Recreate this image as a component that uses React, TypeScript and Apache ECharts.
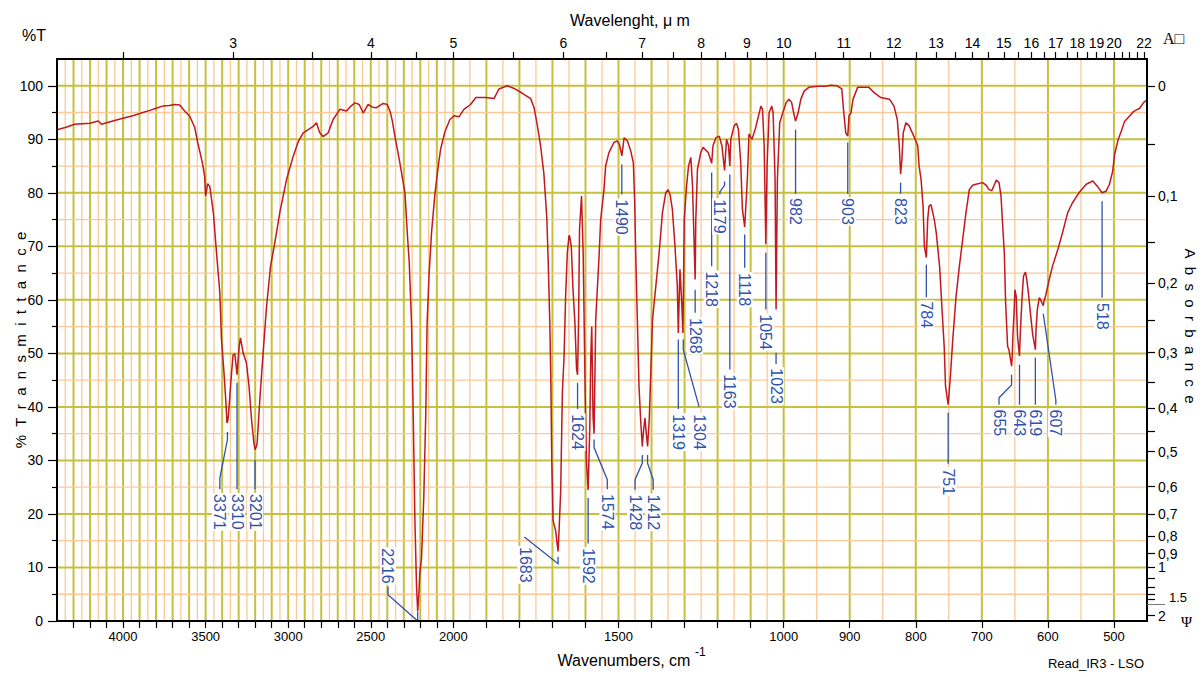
import React, { useEffect, useRef } from "react";
import * as echarts from "echarts";

// ---------- data ----------
// IR spectrum: [wavenumber cm-1, %T]
const spectrum: [number, number][] = [
  [4400, 91.8],[4350, 92.2],[4293, 92.8],[4200, 93.0],[4150, 93.4],[4131, 92.8],[4100, 93.1],[4007, 93.9],[3941, 94.4],[3890, 94.9],
  [3838, 95.4],[3800, 95.8],[3760, 96.2],[3720, 96.3],[3687, 96.5],[3657, 96.4],[3627, 95.3],[3596, 94.3],[3566, 92.2],[3548, 89.4],
  [3530, 87.0],[3518, 85.3],[3506, 83.1],[3500, 79.4],[3494, 80.5],[3488, 81.7],[3475, 81.2],[3465, 79.0],[3453, 76.2],[3434, 68.8],
  [3414, 61.3],[3404, 52.6],[3390, 46.9],[3378, 41.3],[3371, 37.0],[3365, 37.5],[3358, 40.0],[3343, 46.4],[3334, 49.7],[3323, 49.9],
  [3310, 46.0],[3297, 51.3],[3289, 52.9],[3273, 50.1],[3253, 48.2],[3237, 43.8],[3222, 37.6],[3208, 33.3],[3201, 32.0],[3194, 32.5],
  [3188, 33.3],[3172, 41.3],[3152, 50.1],[3131, 58.8],[3107, 66.3],[3081, 70.7],[3051, 76.3],[3010, 82.5],[2970, 86.8],[2940, 89.5],
  [2909, 91.2],[2849, 92.4],[2829, 93.1],[2809, 91.2],[2789, 90.5],[2758, 91.2],[2728, 93.7],[2687, 95.6],[2647, 95.3],[2620, 96.2],
  [2596, 96.8],[2570, 96.5],[2546, 94.9],[2516, 96.5],[2490, 96.0],[2465, 95.9],[2425, 96.7],[2400, 96.5],[2384, 95.3],[2370, 93.5],
  [2354, 90.6],[2324, 85.6],[2293, 80.0],[2279, 72.5],[2267, 66.9],[2253, 55.3],[2243, 38.5],[2233, 19.0],[2223, 6.4],[2216, 1.8],
  [2210, 4.5],[2203, 9.0],[2193, 11.6],[2179, 23.2],[2167, 38.8],[2159, 55.7],[2147, 64.8],[2132, 72.6],[2112, 79.7],[2092, 84.9],
  [2077, 88.2],[2051, 91.4],[2021, 93.7],[1998, 94.4],[1983, 94.2],[1968, 95.6],[1948, 96.5],[1932, 97.8],[1902, 97.8],[1877, 97.6],
  [1862, 99.4],[1837, 100.0],[1816, 99.5],[1791, 98.6],[1766, 97.6],[1756, 96.0],[1746, 92.7],[1736, 88.8],[1726, 83.6],[1717, 75.2],
  [1713, 67.4],[1708, 55.7],[1705, 45.3],[1702, 29.7],[1698, 18.7],[1690, 16.8],[1686, 14.5],[1683, 13.0],[1680, 16.8],[1675, 24.5],
  [1670, 42.7],[1665, 49.2],[1660, 60.9],[1655, 68.7],[1650, 72.0],[1648, 71.9],[1643, 70.0],[1638, 62.2],[1632, 55.7],[1627, 47.0],
  [1624, 46.0],[1621, 55.7],[1618, 73.2],[1612, 79.4],[1607, 68.7],[1601, 42.7],[1597, 29.7],[1592, 24.5],[1587, 36.2],[1584, 49.2],
  [1581, 55.0],[1577, 38.0],[1574, 35.0],[1569, 56.3],[1559, 68.0],[1554, 75.0],[1544, 80.6],[1539, 85.0],[1529, 87.5],[1514, 89.4],
  [1504, 89.7],[1497, 89.0],[1490, 86.9],[1483, 90.3],[1473, 89.7],[1463, 87.8],[1455, 85.6],[1451, 78.2],[1448, 68.8],[1443, 56.3],
  [1438, 43.9],[1433, 37.6],[1428, 32.6],[1425, 35.1],[1420, 37.9],[1416, 35.1],[1412, 32.6],[1407, 37.6],[1402, 47.0],[1397, 56.3],
  [1387, 62.6],[1377, 68.8],[1367, 76.3],[1357, 80.0],[1350, 80.6],[1344, 79.7],[1337, 76.9],[1329, 70.0],[1322, 62.6],[1319, 53.8],
  [1314, 65.7],[1309, 60.0],[1305, 53.8],[1301, 75.0],[1294, 81.3],[1288, 85.0],[1281, 86.6],[1276, 81.3],[1268, 63.8],[1266, 75.0],
  [1261, 84.4],[1251, 87.5],[1244, 88.5],[1236, 88.0],[1228, 87.5],[1218, 85.5],[1214, 88.8],[1205, 90.3],[1195, 90.6],[1187, 88.8],
  [1179, 84.2],[1173, 90.0],[1167, 88.8],[1163, 85.0],[1160, 90.0],[1150, 92.5],[1143, 93.0],[1137, 91.9],[1130, 85.6],[1125, 77.0],
  [1118, 73.6],[1110, 82.5],[1105, 91.0],[1096, 90.0],[1086, 91.9],[1076, 94.4],[1069, 96.2],[1064, 95.6],[1059, 88.8],[1054, 70.4],
  [1050, 85.6],[1044, 95.0],[1036, 96.2],[1032, 95.0],[1026, 82.5],[1023, 58.2],[1019, 82.5],[1012, 93.1],[1004, 94.7],[996, 96.9],
  [992, 97.5],[988, 96.9],[984, 94.4],[982, 93.4],[978, 95.0],[974, 97.5],[969, 99.0],[962, 99.7],[949, 99.9],[936, 99.9],
  [929, 100.1],[919, 100.0],[912, 99.4],[909, 95.0],[906, 91.2],[903, 90.6],[901, 94.4],[898, 95.0],[895, 97.5],[888, 99.7],
  [881, 99.7],[871, 99.7],[863, 98.7],[853, 97.8],[840, 97.5],[833, 96.2],[828, 93.7],[825, 88.8],[823, 83.5],[821, 86.3],
  [819, 91.2],[815, 93.1],[810, 92.5],[802, 90.3],[797, 88.8],[795, 85.0],[792, 82.5],[789, 77.5],[787, 70.0],[784, 67.9],
  [782, 75.0],[780, 77.5],[777, 77.8],[772, 75.0],[769, 72.5],[764, 66.3],[760, 57.6],[757, 51.3],[755, 43.9],[751, 40.4],
  [748, 45.1],[744, 52.6],[739, 60.7],[734, 66.3],[729, 71.3],[724, 76.3],[719, 80.6],[714, 81.4],[709, 81.6],[699, 81.9],
  [694, 81.5],[689, 80.6],[685, 80.4],[681, 81.5],[678, 82.4],[674, 81.9],[671, 79.4],[669, 75.0],[666, 68.8],[664, 59.4],
  [661, 51.3],[659, 50.7],[655, 47.6],[654, 49.5],[653, 53.2],[651, 58.2],[650, 61.9],[648, 60.7],[646, 53.2],[643, 49.5],
  [642, 53.2],[639, 60.7],[637, 64.4],[634, 65.2],[632, 63.8],[629, 60.7],[626, 56.9],[623, 53.5],[619, 50.7],[618, 54.4],
  [616, 58.2],[613, 60.4],[611, 60.0],[607, 58.9],[606, 59.7],[603, 61.0],[598, 63.8],[593, 66.3],[585, 69.4],[578, 72.5],
  [570, 76.3],[563, 78.1],[553, 80.0],[542, 81.6],[532, 82.2],[525, 81.2],[518, 80.0],[512, 80.3],[507, 81.5],[502, 84.0],
  [499, 87.2],[494, 89.8],[489, 91.5],[484, 93.3],[476, 94.4],[471, 95.1],[466, 95.5],[461, 95.8],[455, 96.9],[450, 97.3],
];

// peak annotations
const peakTexts = [
  "3371", "3310", "3201", "2216", "1683", "1624", "1592", "1574", "1490", "1428",
  "1412", "1319", "1304", "1268", "1218", "1179", "1163", "1118", "1054", "1023",
  "982", "903", "823", "784", "751", "655", "643", "619", "607", "518",
];
// where each label's top sits: [wavenumber, %T]
const labelAnchors: [number, number][] = [
  [3414, 23.9], [3310, 23.9], [3201, 23.9], [2396, 13.8], [1782, 14.0], [1624, 38.8], [1592, 13.8], [1534, 23.9], [1490, 79.0], [1450, 23.8],
  [1395, 23.8], [1319, 38.8], [1256, 38.8], [1268, 56.8], [1218, 65.5], [1193, 79.0], [1163, 46.3], [1118, 65.2], [1054, 57.5], [1023, 47.4],
  [982, 79.2], [903, 79.2], [823, 79.2], [784, 59.9], [751, 28.7], [674, 39.7], [643, 39.7], [619, 39.7], [588, 39.7], [518, 59.6],
];
// leader lines: [wavenumber, %T] points
const leaders: [number, number][][] = [
  [[3368, 35.3], [3368, 33.9], [3414, 26.7], [3414, 24.6]],
  [[3310, 44.5], [3310, 24.6]],
  [[3201, 30.1], [3201, 24.6]],
  [[2396, 6.4], [2396, 4.9], [2216, 0], [2216, 1.7]],
  [[1785, 15.7], [1683, 10.7], [1683, 12.0]],
  [[1624, 44.5], [1624, 39.6]],
  [[1592, 23.0], [1592, 14.5]],
  [[1574, 33.9], [1574, 32.4], [1534, 26.4], [1534, 24.6]],
  [[1490, 85.3], [1490, 79.7]],
  [[1428, 31.0], [1428, 29.5], [1450, 26.4], [1450, 24.5]],
  [[1412, 31.0], [1412, 29.5], [1395, 26.4], [1395, 24.5]],
  [[1319, 52.6], [1319, 39.6]],
  [[1304, 52.6], [1304, 50.7], [1256, 40.0]],
  [[1268, 61.9], [1268, 57.6]],
  [[1218, 83.8], [1218, 66.3]],
  [[1179, 82.1], [1179, 81.4], [1193, 80.2], [1193, 79.7]],
  [[1163, 83.4], [1163, 47.0]],
  [[1118, 72.2], [1118, 66.0]],
  [[1054, 68.8], [1054, 58.2]],
  [[1023, 50.1], [1023, 48.0]],
  [[982, 91.8], [982, 79.8]],
  [[903, 89.4], [903, 79.8]],
  [[823, 81.9], [823, 79.8]],
  [[784, 66.6], [784, 60.5]],
  [[751, 38.9], [751, 29.4]],
  [[655, 46.0], [655, 44.1], [674, 41.7], [674, 40.4]],
  [[643, 47.9], [643, 40.4]],
  [[619, 49.2], [619, 40.4]],
  [[607, 57.4], [588, 41.3], [588, 40.4]],
  [[518, 78.4], [518, 60.4]],
];

// axis ticks and labels
const bottomTickNu = [
  4300, 4200, 4100, 4000, 3900, 3800, 3700, 3600, 3500, 3400, 3300, 3200, 3100, 3000, 2900, 2800, 2700, 2600, 2500,
  2400, 2300, 2200, 2100, 2000, 1900, 1800, 1700, 1600, 1500, 1400, 1300, 1200, 1100, 1000, 900, 800, 700, 600, 500,
];
const bottomLabelNu = [4000, 3500, 3000, 2500, 2000, 1500, 1000, 900, 800, 700, 600, 500];
const topTickUm = [
  2.5, 3, 3.5, 4, 4.5, 5, 5.5, 6, 6.5, 7, 7.5, 8, 8.5, 9, 9.5, 10, 10.5, 11, 11.5, 12, 12.5, 13, 13.5, 14, 14.5,
  15, 15.5, 16, 16.5, 17, 17.5, 18, 18.5, 19, 19.5, 20, 20.5, 21, 21.5, 22,
];
const topLabelUm = [3, 4, 5, 6, 7, 8, 9, 10, 11, 12, 13, 14, 15, 16, 17, 18, 19, 20, 22];
const leftTicks = [0, 10, 20, 30, 40, 50, 60, 70, 80, 90, 100];
const leftMinorTicks = [5, 15, 25, 35, 45, 55, 65, 75, 85, 95];
const absTicks = [0, 0.05, 0.1, 0.15, 0.2, 0.25, 0.3, 0.35, 0.4, 0.45, 0.5, 0.6, 0.7, 0.8, 0.9, 1, 1.1, 1.2, 1.3, 1.4, 2];
const absLabels = [0, 0.1, 0.2, 0.3, 0.4, 0.5, 0.6, 0.7, 0.8, 0.9, 1, 2];
const absSpecial = [1.5];

// ---------- styles ----------
const GOLD = "#c7bf3e";
const ORANGE = "#fcc898";
const RED = "#c0191f";
const BLUE = "#2f52ad";
const SANS = "'Liberation Sans', Arial, Helvetica, sans-serif";
const SERIF = "'Liberation Serif', 'Times New Roman', serif";

// piecewise scale of the instrument chart (x1 above 2000, x2 1000-2000, x4 below 1000)
const toG = (nu: number) => (nu >= 2000 ? nu : nu >= 1000 ? 2 * nu - 2000 : 4 * nu - 4000);
const fromG = (g: number) => (g >= 2000 ? g : g >= 0 ? (g + 2000) / 2 : (g + 4000) / 4);
const tFromA = (a: number) => 100 * Math.pow(10, -a);
const aFromT = (t: number) => Math.round((2 - Math.log10(t)) * 100) / 100;

const G_MIN = toG(450);
const G_MAX = toG(4400);

export default function App() {
  const ref = useRef<HTMLDivElement>(null);

  useEffect(() => {
    if (!ref.current) return;
    const chart = echarts.init(ref.current, undefined, { renderer: "svg" });

    const vGrid: number[][] = [];
    for (let nu = 4350; nu >= 500; nu -= 50) vGrid.push([toG(nu), nu % 100 === 0 ? 1 : 0]);
    vGrid.sort((a, b) => a[1] - b[1]);
    const hGrid: number[][] = [];
    for (let t = 5; t <= 100; t += 5) hGrid.push([G_MAX, t, t % 10 === 0 ? 1 : 0]);
    hGrid.sort((a, b) => a[2] - b[2]);

    const axisLineStyle = { show: true, onZero: false, lineStyle: { color: "#000", width: 2 } };
    const tickStyle = { lineStyle: { color: "#000", width: 1.2 } };

    const absFmt = (v: number) => {
      const a = aFromT(v);
      if (a === 0 || a === 1 || a === 2) return String(a);
      if (a === 1.5) return "1.5";
      return String(a).replace(".", ",");
    };

    chart.setOption({
      animation: false,
      backgroundColor: "#fff",
      grid: { left: 57, right: 55, top: 59, bottom: 56, containLabel: false },
      xAxis: [
        {
          type: "value", position: "bottom", min: G_MIN, max: G_MAX, inverse: true, z: 10,
          axisLine: axisLineStyle,
          axisTick: { show: true, inside: false, length: 7, customValues: bottomTickNu.map(toG), ...tickStyle },
          axisLabel: {
            show: true, customValues: bottomLabelNu.map(toG), margin: 9,
            formatter: (v: number) => String(Math.round(fromG(v))),
            color: "#000", fontSize: 13, fontFamily: SANS,
          },
          splitLine: { show: false },
        },
        {
          type: "value", position: "top", min: G_MIN, max: G_MAX, inverse: true, z: 10,
          axisLine: axisLineStyle,
          axisTick: { show: true, inside: false, length: 7, customValues: topTickUm.map((u) => toG(10000 / u)), ...tickStyle },
          axisLabel: {
            show: true, customValues: topLabelUm.map((u) => toG(10000 / u)), margin: 9,
            formatter: (v: number) => String(Math.round(10000 / fromG(v))),
            color: "#000", fontSize: 14, fontFamily: SANS,
          },
          splitLine: { show: false },
        },
      ],
      yAxis: [
        {
          type: "value", position: "left", min: 0, max: 105, z: 10,
          axisLine: axisLineStyle,
          axisTick: { show: true, length: 9, customValues: leftTicks, ...tickStyle },
          axisLabel: { show: true, customValues: leftTicks, margin: 14, color: "#000", fontSize: 14, fontFamily: SANS },
          splitLine: { show: false },
        },
        {
          type: "value", position: "left", min: 0, max: 105, z: 10,
          axisLine: { show: false, onZero: false },
          axisTick: { show: true, length: 5, customValues: leftMinorTicks, ...tickStyle },
          axisLabel: { show: false },
          splitLine: { show: false },
        },
        {
          type: "value", position: "right", min: 0, max: 105, z: 10,
          axisLine: axisLineStyle,
          axisTick: { show: true, length: 8, customValues: absTicks.map(tFromA), ...tickStyle },
          axisLabel: {
            show: true, customValues: absLabels.map(tFromA), margin: 11, formatter: absFmt,
            color: "#000", fontSize: 14, fontFamily: SANS,
          },
          splitLine: { show: false },
        },
        {
          type: "value", position: "right", min: 0, max: 105, z: 10,
          axisLine: { show: false, onZero: false },
          axisTick: { show: true, length: 18, customValues: absSpecial.map(tFromA), lineStyle: { color: "#777", width: 1 } },
          axisLabel: {
            show: true, customValues: absSpecial.map(tFromA), margin: 22, formatter: absFmt,
            color: "#000", fontSize: 13, fontFamily: SANS, verticalAlign: "bottom",
          },
          splitLine: { show: false },
        },
      ],
      graphic: [
        { type: "text", left: 22, top: 27, style: { text: "%T", fontSize: 16, fontFamily: SANS, fill: "#000" } },
        { type: "text", x: 630, y: 20, style: { text: "Wavelenght, \u03bc m", fontSize: 16, fontFamily: SANS, fill: "#000", align: "center", verticalAlign: "middle" } },
        {
          type: "text", x: 20, y: 340, rotation: Math.PI / 2,
          style: { text: "%\u00a0\u00a0T\u00a0\u00a0r\u00a0\u00a0a\u00a0\u00a0n\u00a0\u00a0s\u00a0\u00a0m\u00a0\u00a0i\u00a0\u00a0t\u00a0\u00a0t\u00a0\u00a0a\u00a0\u00a0n\u00a0\u00a0c\u00a0\u00a0e", fontSize: 15, fontFamily: SANS, fill: "#000", align: "center", verticalAlign: "middle" },
        },
        {
          type: "text", x: 1190, y: 326, rotation: -Math.PI / 2,
          style: { text: "A\u00a0\u00a0b\u00a0\u00a0s\u00a0\u00a0o\u00a0\u00a0r\u00a0\u00a0b\u00a0\u00a0a\u00a0\u00a0n\u00a0\u00a0c\u00a0\u00a0e", fontSize: 15, fontFamily: SANS, fill: "#000", align: "center", verticalAlign: "middle" },
        },
        { type: "text", x: 1163, y: 38, style: { text: "A\u25a1", fontSize: 16, fontFamily: SERIF, fill: "#000", verticalAlign: "middle" } },
        { type: "text", x: 1181, y: 622, style: { text: "\u03a8", fontSize: 15, fontFamily: SERIF, fill: "#000", verticalAlign: "middle" } },
        { type: "text", x: 624, y: 660, style: { text: "Wavenumbers, cm", fontSize: 16, fontFamily: SANS, fill: "#000", align: "center", verticalAlign: "middle" } },
        { type: "text", x: 695, y: 652, style: { text: "-1", fontSize: 12, fontFamily: SANS, fill: "#000", verticalAlign: "middle" } },
        { type: "text", x: 1096, y: 663, style: { text: "Read_IR3 - LSO", fontSize: 13, fontFamily: SANS, fill: "#000", align: "center", verticalAlign: "middle" } },
      ],
      series: [
        {
          type: "custom", name: "vgrid", silent: true, z: 1, xAxisIndex: 0, yAxisIndex: 0,
          data: vGrid,
          renderItem: (_p: any, api: any) => {
            const g = api.value(0);
            const major = api.value(1) === 1;
            const a = api.coord([g, 0]);
            const b = api.coord([g, 105]);
            return { type: "line", shape: { x1: a[0], y1: a[1], x2: b[0], y2: b[1] }, style: { stroke: major ? GOLD : ORANGE, lineWidth: major ? 2 : 1.3 } };
          },
        },
        {
          type: "custom", name: "hgrid", silent: true, z: 1, xAxisIndex: 0, yAxisIndex: 0,
          data: hGrid,
          renderItem: (_p: any, api: any) => {
            const t = api.value(1);
            const major = api.value(2) === 1;
            const a = api.coord([G_MAX, t]);
            const b = api.coord([G_MIN, t]);
            return { type: "line", shape: { x1: a[0], y1: a[1], x2: b[0], y2: b[1] }, style: { stroke: major ? GOLD : ORANGE, lineWidth: major ? 2 : 1.3 } };
          },
        },
        {
          type: "line", name: "spectrum", silent: true, z: 3, xAxisIndex: 0, yAxisIndex: 0,
          showSymbol: false, symbol: "none", clip: true,
          lineStyle: { color: RED, width: 1.5 },
          data: spectrum.map(([nu, t]) => [toG(nu), t]),
        },
        {
          type: "custom", name: "peaks", silent: true, z: 4, xAxisIndex: 0, yAxisIndex: 0,
          data: labelAnchors.map(([nu, t]) => [toG(nu), t]),
          renderItem: (params: any, api: any) => {
            const i = params.dataIndex;
            const pos = api.coord([api.value(0), api.value(1)]);
            const pts = leaders[i].map(([nu, t]) => api.coord([toG(nu), t]));
            return {
              type: "group",
              children: [
                { type: "polyline", shape: { points: pts }, style: { stroke: BLUE, lineWidth: 1.3, fill: null } },
                {
                  type: "text", x: pos[0], y: pos[1], rotation: -Math.PI / 2,
                  style: {
                    text: peakTexts[i], fill: BLUE, fontSize: 16, fontFamily: SANS,
                    align: "left", verticalAlign: "middle", backgroundColor: "#fff", padding: [0, 1, 0, 1],
                  },
                },
              ],
            };
          },
        },
      ],
    });

    return () => chart.dispose();
  }, []);

  return <div ref={ref} style={{ position: "absolute", left: 0, top: 0, width: 1202, height: 677 }} />;
}
